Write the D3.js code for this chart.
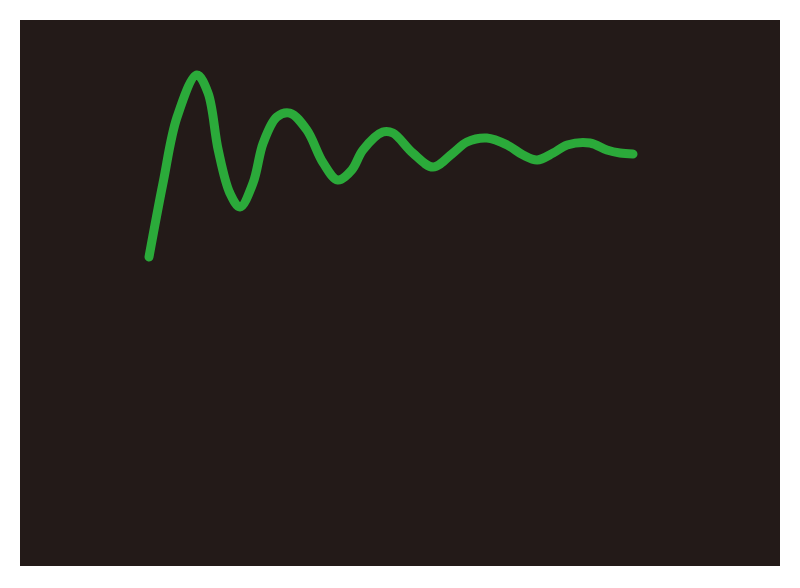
<!DOCTYPE html>
<html>
<head>
<meta charset="utf-8">
<script src="https://cdn.jsdelivr.net/npm/d3@7"></script>
<style>
	body { margin: 0; background: #fff; }
	.line { fill: none; stroke: #2baa3a; stroke-width: 9; stroke-linecap: round; stroke-linejoin: round; }
</style>
</head>
<body>
<div class="box"></div>
<script>
// time samples
var times = [0, 0.29, 0.58, 0.99, 1.22, 1.43, 1.67, 1.88, 2.15, 2.36, 2.64, 2.91,
	3.26, 3.60, 3.90, 4.19, 4.42, 4.83, 5.04, 5.45, 5.87, 6.28, 6.57, 6.98,
	7.40, 7.73, 8.02, 8.35, 8.64, 9.11, 9.46, 9.73, 10];

// response values
var values = [0, 0.705, 1.333, 1.733, 1.562, 1.019, 0.610, 0.476, 0.705, 1.086, 1.333, 1.371,
	1.210, 0.895, 0.733, 0.829, 1.019, 1.190, 1.181, 0.990, 0.857, 0.990, 1.095, 1.133,
	1.067, 0.971, 0.924, 0.990, 1.067, 1.086, 1.019, 0.990, 0.981];

var width = 800, height = 588;

var svg = d3.select('.box')
	.append('svg')
	.attr('width', width)
	.attr('height', height);

svg.append('rect')
	.attr('x', 20)
	.attr('y', 20)
	.attr('width', 760)
	.attr('height', 546)
	.style('fill', '#231a18');

var x = d3.scaleLinear().domain([0, 10]).range([149, 633]);
var y = d3.scaleLinear().domain([0, 1]).range([257, 152]);

var data = times.map(function(t, i) { return {t: t, v: values[i]}; });

var line = d3.line()
	.x(function(d) { return x(d.t); })
	.y(function(d) { return y(d.v); })
	.curve(d3.curveCatmullRom);

svg.append('path')
	.datum(data)
	.attr('class', 'line')
	.attr('d', line);
</script>
</body>
</html>
